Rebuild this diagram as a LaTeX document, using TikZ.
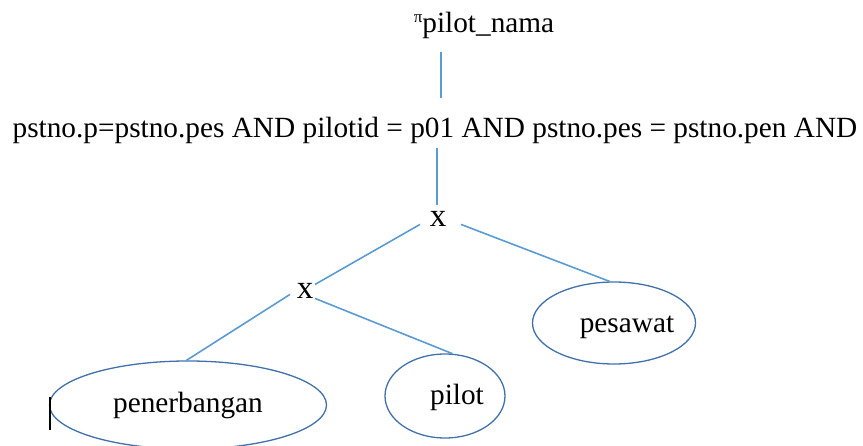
\documentclass[tikz,border=0pt]{standalone}
\usepackage{fontspec}
\setmainfont{Liberation Serif}
\usetikzlibrary{shapes.geometric,calc}
\definecolor{conn}{RGB}{91,155,213}
\definecolor{ell}{RGB}{65,113,170}
\tikzset{
  lbl/.style={inner sep=0pt, anchor=base, font=\fontsize{29.3}{35}\selectfont},
  opx/.style={inner sep=0pt, anchor=base, font=\fontsize{33}{38}\selectfont},
  rel/.style={draw=ell, line width=1.3pt, ellipse, inner sep=0pt},
  link/.style={draw=conn, line width=1.6pt}
}
\begin{document}
\begin{tikzpicture}[x=1pt,y=-1pt]
\useasboundingbox (0,0) rectangle (863,446);
% labels
\node[lbl] (proj) at (484,33) {\raisebox{10pt}{\fontsize{17}{18}\selectfont π}pilot\_nama};
\node[lbl] (sel) at (435,138) {pstno.p=pstno.pes AND pilotid = p01 AND pstno.pes = pstno.pen AND};
\node[opx] (x1) at (438,227) {x};
\node[opx] (x2) at (305,299) {x};
% relations
\node[rel, minimum width=277pt, minimum height=88pt] (pen) at (188,405) {};
\node[lbl] (penT) at (188,413) {penerbangan};
\node[rel, minimum width=120pt, minimum height=84pt] (pil) at (445,396) {};
\node[lbl] (pilT) at (457,405) {pilot};
\node[rel, minimum width=163pt, minimum height=82pt] (pes) at (614,323) {};
\node[lbl] (pesT) at (627,333) {pesawat};
% connector coordinates
\coordinate (a1) at (441,52);
\coordinate (a2) at (441,98);
\coordinate (b1) at (437,148);
\coordinate (b2) at (437,205);
% connectors
\draw[link] (a1) -- (a2);
\draw[link] (b1) -- (b2);
\draw[link] ($(x1)+(-18,5)$) -- ($(x2)+(10,-7)$);
\draw[link] ($(x1)+(23,5)$) -- (pes.96);
\draw[link] ($(x2)+(-15,3)$) -- (pen.92);
\draw[link] ($(x2)+(10,7)$) -- (pil.80);
% cursor mark
\draw[black, line width=1.5pt] (50,397) -- (50,430);
\end{tikzpicture}
\end{document}
